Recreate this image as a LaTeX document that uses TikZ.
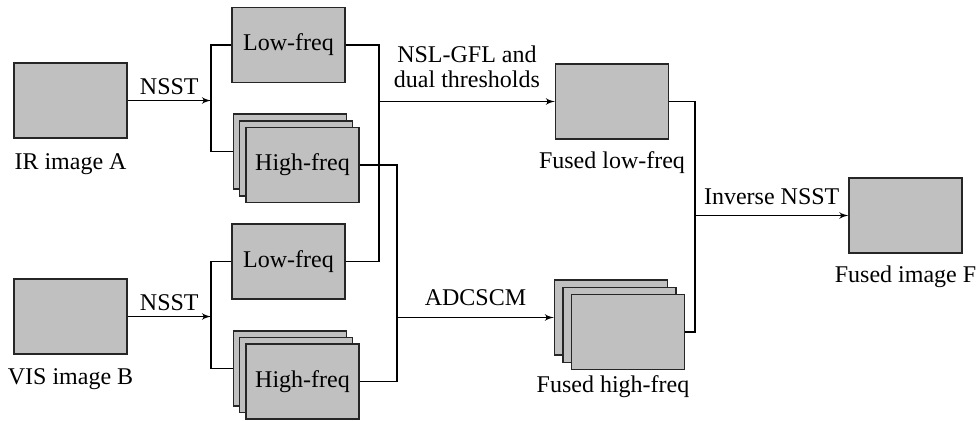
\documentclass[tikz,border=0pt]{standalone}
\usepackage{fontspec}
\setmainfont{Liberation Serif}
\usepackage{xcolor}
\usepackage{tikz}
\usetikzlibrary{shapes, arrows, positioning}
\definecolor{boxgray}{RGB}{192,192,192}

\begin{document}
\begin{tikzpicture}[x=0.5pt, y=-0.5pt, >=latex', line width=0.6pt, font=\fontsize{12}{12.5}\selectfont]
        \tikzstyle{block} = [draw=black!85, fill=boxgray, rectangle, inner sep=0pt, minimum width=56.5pt, minimum height=37.5pt]
        \tikzstyle{caption} = [inner sep=1pt]
        \tikzstyle{lbl} = [inner sep=0pt, align=center]

        \useasboundingbox (0,0) rectangle (979,420);

        % --- 源图像 ---
        \node [block] (imgA) at (70.5,100.5) {};
        \node [caption, below=6pt of imgA] (capA) {IR image A};
        \node [block] (imgB) at (70.5,316.5) {};
        \node [caption, below=5.5pt of imgB] (capB) {VIS image B};

        % --- NSST 分解 (A) ---
        \node [block] (lowA) at (288.5,45) {Low-freq};
        \node [block] (highAb) at (290,151.5) {};
        \node [block] (highAm) at (296,158.5) {};
        \node [block] (highAf) at (302.5,165) {High-freq};

        % --- NSST 分解 (B) ---
        \node [block] (lowB) at (288.5,261.5) {Low-freq};
        \node [block] (highBb) at (290,368.5) {};
        \node [block] (highBm) at (296,375) {};
        \node [block] (highBf) at (302.5,381.5) {High-freq};

        % --- 融合系数 ---
        \node [block] (fusedL) at (612,101.5) {};
        \node [caption, below=4.5pt of fusedL] (capL) {Fused low-freq};
        \node [block] (fusedHb) at (611,317.5) {};
        \node [block] (fusedHm) at (619.5,324.75) {};
        \node [block] (fusedHf) at (628,332) {};
        \node [caption, below=1.5pt of fusedHf, xshift=-7.5pt] (capH) {Fused high-freq};

        % --- 融合图像 ---
        \node [block] (imgF) at (905.5,215.5) {};
        \node [caption, below=5pt of imgF] (capF) {Fused image F};

        % --- 分支点 ---
        \coordinate (splitA) at (211,100.5);
        \coordinate (splitB) at (211,316.5);
        \coordinate (joinL) at (379,101.5);
        \coordinate (joinH) at (397,317.5);
        \coordinate (joinF) at (695,215.5);

        % --- 连线: 分解 ---
        \draw [->] (imgA) -- node[lbl, above=2.5pt] {NSST} (splitA);
        \draw (lowA.west) -| (splitA) |- (highAb.west);
        \draw [->] (imgB) -- node[lbl, above=2.5pt] {NSST} (splitB);
        \draw (lowB.west) -| (splitB) |- (highBb.west);

        % --- 连线: 融合规则 ---
        \draw (lowA.east) -| (joinL) |- (lowB.east);
        \draw [->] (joinL) -- node[lbl, above=6.5pt] {NSL-GFL and\\dual thresholds} (fusedL);
        \draw (highAf.east) -| (joinH) |- (highBf.east);
        \draw [->] (joinH) -- node[lbl, above=5.5pt] {ADCSCM} (fusedHb);

        % --- 连线: 重构 ---
        \draw (fusedL.east) -| (joinF) |- (fusedHf.east);
        \draw [->] (joinF) -- node[lbl, above=5pt] {Inverse NSST} (imgF);

    \end{tikzpicture}
\end{document}
